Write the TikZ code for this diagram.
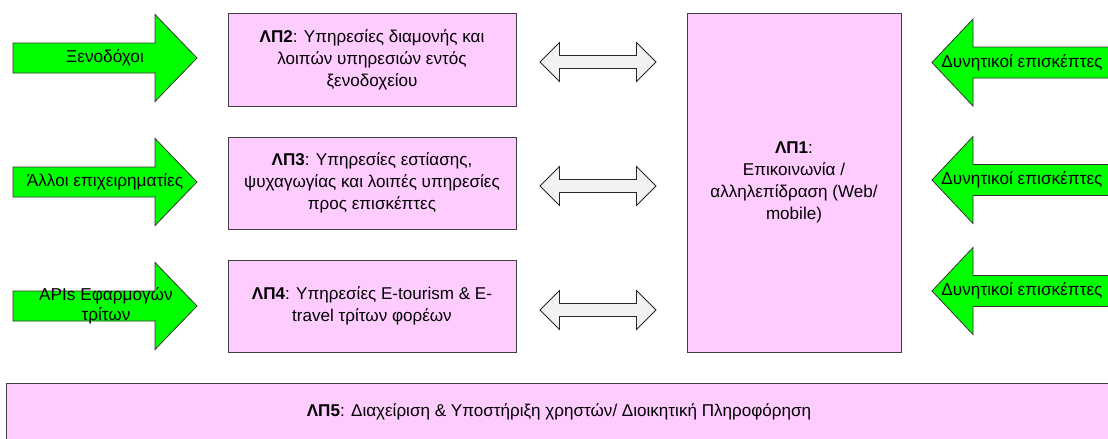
\documentclass[tikz,border=0pt]{standalone}
\usepackage{fontspec}
\setmainfont{Liberation Sans}
\usetikzlibrary{calc}
\usetikzlibrary{positioning}
\definecolor{lppink}{HTML}{FFCCFF}
\definecolor{lpgreen}{HTML}{00FF00}
\definecolor{lpgray}{HTML}{F2F2F2}
\tikzset{
    lpbox/.style={
        rectangle,          % ορθογώνιο πλαίσιο
        draw=black!75,      % περίγραμμα
        fill=lppink,        % ροζ γέμισμα
        align=center,
        inner sep=2pt,
        font=\fontsize{12.8}{16.5}\selectfont
    },
    greenarrow/.style={draw=black!80, fill=lpgreen, line width=0.6pt},
    grayarrow/.style={draw=black!85, fill=lpgray, line width=0.6pt},
    arrowtext/.style={align=center, font=\fontsize{12.9}{15}\selectfont}
}

\begin{document}
\begin{tikzpicture}[x=0.75pt, y=-0.75pt]
\useasboundingbox (0,0) rectangle (1108,439);

% κουτιά
\node[lpbox, minimum width=216pt, minimum height=69.75pt] (lp2) at (372,59.5)
    {\textbf{ΛΠ2}: Υπηρεσίες διαμονής και\\λοιπών υπηρεσιών εντός\\ξενοδοχείου};
\node[lpbox, minimum width=216pt, minimum height=69pt] (lp3) at (372,183)
    {\textbf{ΛΠ3}: Υπηρεσίες εστίασης,\\ψυχαγωγίας και λοιπές υπηρεσίες\\προς επισκέπτες};
\node[lpbox, minimum width=216pt, minimum height=69pt] (lp4) at (372,306)
    {\textbf{ΛΠ4}: Υπηρεσίες E-tourism \& E-\\travel τρίτων φορέων};
\node[lpbox, minimum width=160.5pt, minimum height=254.25pt] (lp1) at (794,182.5)
    {\textbf{ΛΠ1}:\\Επικοινωνία /\\αλληλεπίδραση (Web/\\mobile)};
\node[lpbox, minimum width=829.5pt, minimum height=43.5pt] (lp5) at (559,412)
    {\textbf{ΛΠ5}: Διαχείριση \& Υποστήριξη χρηστών/ Διοικητική Πληροφόρηση};

% πράσινα βέλη αριστερά
\foreach \yc in {58,182,306}{
    \draw[greenarrow] (13,\yc-15) -- (155,\yc-15) -- (155,\yc-43.5) -- (197,\yc)
        -- (155,\yc+43.5) -- (155,\yc+15) -- (13,\yc+15) -- cycle;
}
% πράσινα βέλη δεξιά
\foreach \yc in {62.5,180,291}{
    \draw[greenarrow] (1114,\yc-15.5) -- (973,\yc-15.5) -- (973,\yc-43.5) -- (932,\yc)
        -- (973,\yc+43.5) -- (973,\yc+15.5) -- (1114,\yc+15.5) -- cycle;
}
% διπλά βέλη
\foreach \yc in {62,186,310}{
    \draw[grayarrow] (540,\yc) -- (559.5,\yc-19.5) -- (559.5,\yc-6.5) -- (636.5,\yc-6.5)
        -- (636.5,\yc-19.5) -- (656,\yc) -- (636.5,\yc+19.5) -- (636.5,\yc+6.5)
        -- (559.5,\yc+6.5) -- (559.5,\yc+19.5) -- cycle;
}

% κείμενα βελών
\node[arrowtext] (xen) at (105,58) {Ξενοδόχοι};
\node[arrowtext] (allo) at (105,182) {Άλλοι επιχειρηματίες};
\node[arrowtext] (apis) at (106,306) {APIs Εφαρμογών\\τρίτων};
\node[arrowtext] (dyn1) at (1022,62.5) {Δυνητικοί επισκέπτες};
\node[arrowtext] (dyn2) at (1022,180) {Δυνητικοί επισκέπτες};
\node[arrowtext] (dyn3) at (1022,291) {Δυνητικοί επισκέπτες};

\end{tikzpicture}
\end{document}
